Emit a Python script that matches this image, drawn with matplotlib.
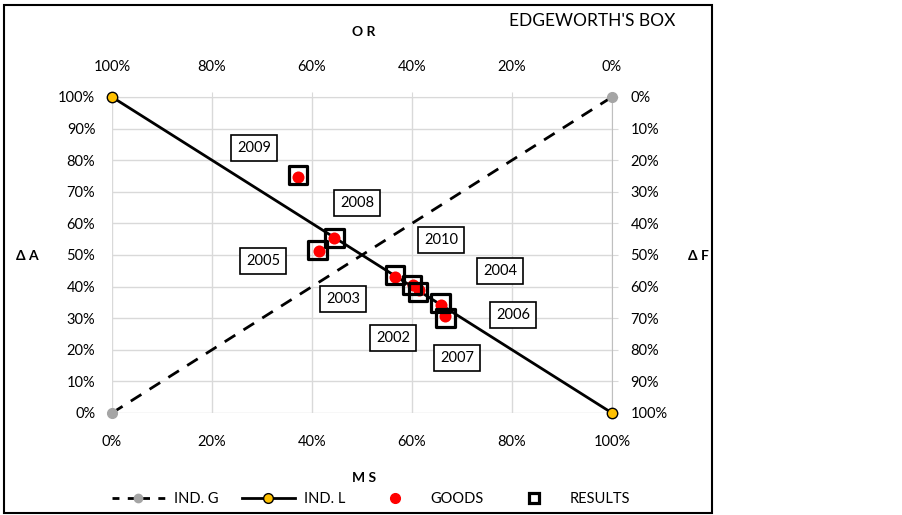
import matplotlib.pyplot as plt
from matplotlib.patches import Rectangle
from matplotlib.ticker import PercentFormatter, FixedLocator
from matplotlib.lines import Line2D

plt.rcParams["font.family"] = ["Lato", "DejaVu Sans"]

# indifference lines (corners of the box)
ind_g_x = [0.0, 1.0]
ind_g_y = [0.0, 1.0]
ind_l_x = [0.0, 1.0]
ind_l_y = [1.0, 0.0]

# observed points
goods_x = [0.371, 0.443, 0.413, 0.565, 0.601, 0.613, 0.658, 0.665]
goods_y = [0.748, 0.553, 0.514, 0.431, 0.405, 0.389, 0.342, 0.307]
results_x = [0.372, 0.445, 0.411, 0.566, 0.600, 0.612, 0.657, 0.667]
results_y = [0.752, 0.553, 0.516, 0.436, 0.404, 0.384, 0.349, 0.300]

years = ["2009", "2008", "2005", "2010", "2004", "2003", "2002", "2007", "2006"]
label_x = [0.284, 0.490, 0.302, 0.658, 0.776, 0.462, 0.562, 0.690, 0.802]
label_y = [0.839, 0.665, 0.481, 0.547, 0.449, 0.361, 0.237, 0.174, 0.310]

x_ticks = [0.0, 0.2, 0.4, 0.6, 0.8, 1.0]
y_ticks = [0.0, 0.1, 0.2, 0.3, 0.4, 0.5, 0.6, 0.7, 0.8, 0.9, 1.0]

fig = plt.figure(figsize=(9.02, 5.15), dpi=100)
ax = fig.add_axes([112/902, 1-413/515, 500/902, 316/515])

grid_c = "#D9D9D9"
pct = PercentFormatter(1.0, decimals=0)
ax.set_xlim(0, 1)
ax.set_ylim(0, 1)
ax.xaxis.set_major_locator(FixedLocator(x_ticks))
ax.yaxis.set_major_locator(FixedLocator(y_ticks))
ax.xaxis.set_major_formatter(pct)
ax.yaxis.set_major_formatter(pct)
ax.grid(True, color=grid_c, lw=1.0)
ax.set_axisbelow(True)
for s in ax.spines.values():
    s.set_visible(False)
ax.tick_params(axis="x", length=0, pad=16, labelsize=10.5)
ax.tick_params(axis="y", length=0, pad=12, labelsize=10.5)

top = ax.secondary_xaxis("top", functions=(lambda v: 1 - v, lambda v: 1 - v))
top.xaxis.set_major_locator(FixedLocator(x_ticks))
top.xaxis.set_major_formatter(pct)
top.tick_params(direction="out", length=3.6, color=grid_c, pad=13, labelsize=10.5)
top.spines["top"].set_color(grid_c)

right = ax.secondary_yaxis("right", functions=(lambda v: 1 - v, lambda v: 1 - v))
right.yaxis.set_major_locator(FixedLocator(y_ticks))
right.yaxis.set_major_formatter(pct)
right.tick_params(direction="out", length=4.3, color=grid_c, pad=9, labelsize=10.5)
right.spines["right"].set_color("#BFBFBF")

ax.plot(ind_g_x, ind_g_y, color="black", lw=2.0, ls=(0, (4.5, 3.5)),
        marker="o", ms=7, mfc="#A5A5A5", mec="#A5A5A5", zorder=3, clip_on=False)
ax.plot(ind_l_x, ind_l_y, color="black", lw=2.0,
        marker="o", ms=7.5, mfc="#FFC000", mec="black", mew=1.0, zorder=3, clip_on=False)
ax.scatter(goods_x, goods_y, s=75, color="#FF0000", zorder=4, lw=0)
ax.scatter(results_x, results_y, s=170, marker="s", facecolor="none",
           edgecolor="black", lw=2.3, zorder=5)

for t, lx, ly in zip(years, label_x, label_y):
    ax.text(lx, ly, t, ha="center", va="center", fontsize=10.5, zorder=6,
            bbox=dict(boxstyle="square,pad=0.4", fc="white", ec="black", lw=1.2))

fig.text(27/902, 1-256/515, "Δ A", ha="center", va="center", fontsize=10, fontweight="bold")
fig.text(698/902, 1-256/515, "Δ F", ha="center", va="center", fontsize=10, fontweight="bold")
fig.text(364/902, 1-32/515, "O R", ha="center", va="center", fontsize=10, fontweight="bold")
fig.text(364/902, 1-478/515, "M S", ha="center", va="center", fontsize=10, fontweight="bold")
fig.text(675/902, 1-21/515, "EDGEWORTH'S BOX", ha="right", va="center", fontsize=12.5)

handles = [
    Line2D([], [], color="black", lw=2.0, ls=(0, (2.5, 3)), marker="o", ms=6,
           mfc="#A5A5A5", mec="#A5A5A5"),
    Line2D([], [], color="black", lw=2.0, marker="o", ms=7, mfc="#FFC000", mec="black"),
    Line2D([], [], ls="none", marker="o", ms=7, color="#FF0000"),
    Line2D([], [], ls="none", marker="s", ms=7, mfc="none", mec="black", mew=2.3),
]
fig.legend(handles, ["IND. G", "IND. L", "GOODS", "RESULTS"], loc="center",
           bbox_to_anchor=(371/902, 1-499/515), ncol=4, frameon=False, fontsize=10.5,
           handlelength=3.6, handletextpad=0.65, columnspacing=1.6)

fig.add_artist(Rectangle((4/902, 1-513/515), 708/902, 508/515, transform=fig.transFigure,
                         fill=False, ec="black", lw=1.5))

fig.savefig("out.png", dpi=100)
